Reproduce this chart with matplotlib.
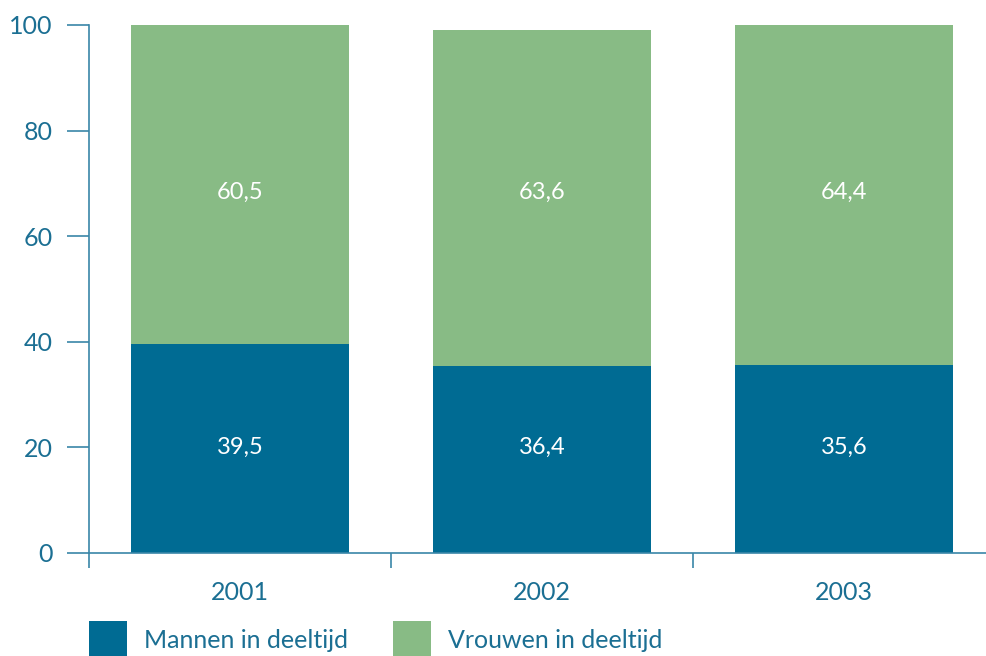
import numpy as np
import matplotlib
matplotlib.use("Agg")
from matplotlib import pyplot as plt

# Data
years = ["2001", "2002", "2003"]
mannen = [39.5, 35.4, 35.6]      # drawn bar heights
vrouwen = [60.5, 63.6, 64.4]
mannen_labels = ["39,5", "36,4", "35,6"]
vrouwen_labels = ["60,5", "63,6", "64,4"]
yticks = [0, 20, 40, 60, 80, 100]

BLUE = "#006b93"
GREEN = "#88bb85"
TEXT = "#1b6f93"
SPINE = "#3a86a8"

plt.rcParams["font.family"] = ["Lato", "DejaVu Sans"]

fig = plt.figure(figsize=(9.86, 6.56), dpi=100)
ax = fig.add_axes([89 / 986, 103 / 656, 906 / 986, 528 / 656])

x = np.arange(len(years))
ax.bar(x, mannen, width=0.72, color=BLUE, label="Mannen in deeltijd", zorder=1)
ax.bar(x, vrouwen, width=0.72, bottom=mannen, color=GREEN,
       label="Vrouwen in deeltijd", zorder=1)

# Value labels inside the bars
for xi, lm, lv in zip(x, mannen_labels, vrouwen_labels):
    ax.text(xi, 20, lm, ha="center", va="center", color="white", fontsize=17)
    ax.text(xi, 68.3, lv, ha="center", va="center", color="white", fontsize=17)

ax.set_xlim(-0.5, len(years) - 0.5)
ax.set_ylim(0, 100)

# y axis
ax.set_yticks(yticks)
ax.set_yticklabels([str(v) for v in yticks])
ax.tick_params(axis="y", direction="out", length=16, width=1.2, color=SPINE,
               labelcolor=TEXT, labelsize=18, pad=10)

# x axis: ticks between categories, labels centred
ax.set_xticks(np.arange(len(years) + 1) - 0.5)
ax.set_xticklabels([])
ax.set_xticks(x, minor=True)
ax.set_xticklabels(years, minor=True)
ax.tick_params(axis="x", which="major", direction="out", length=10.5, width=1.2,
               color=SPINE)
ax.tick_params(axis="x", which="minor", length=0, labelcolor=TEXT,
               labelsize=18, pad=20)

for side in ["top", "right"]:
    ax.spines[side].set_visible(False)
for side in ["left", "bottom"]:
    ax.spines[side].set_color(SPINE)
    ax.spines[side].set_linewidth(1.2)

leg = ax.legend(loc="upper left", bbox_to_anchor=(89 / 986, 35 / 656),
                bbox_transform=fig.transFigure, ncol=2, frameon=False,
                fontsize=18, handlelength=1.52, handleheight=1.95,
                handletextpad=0.7, columnspacing=1.76, borderpad=0,
                borderaxespad=0)
for t in leg.get_texts():
    t.set_color(TEXT)

fig.savefig("out.png", dpi=100)
